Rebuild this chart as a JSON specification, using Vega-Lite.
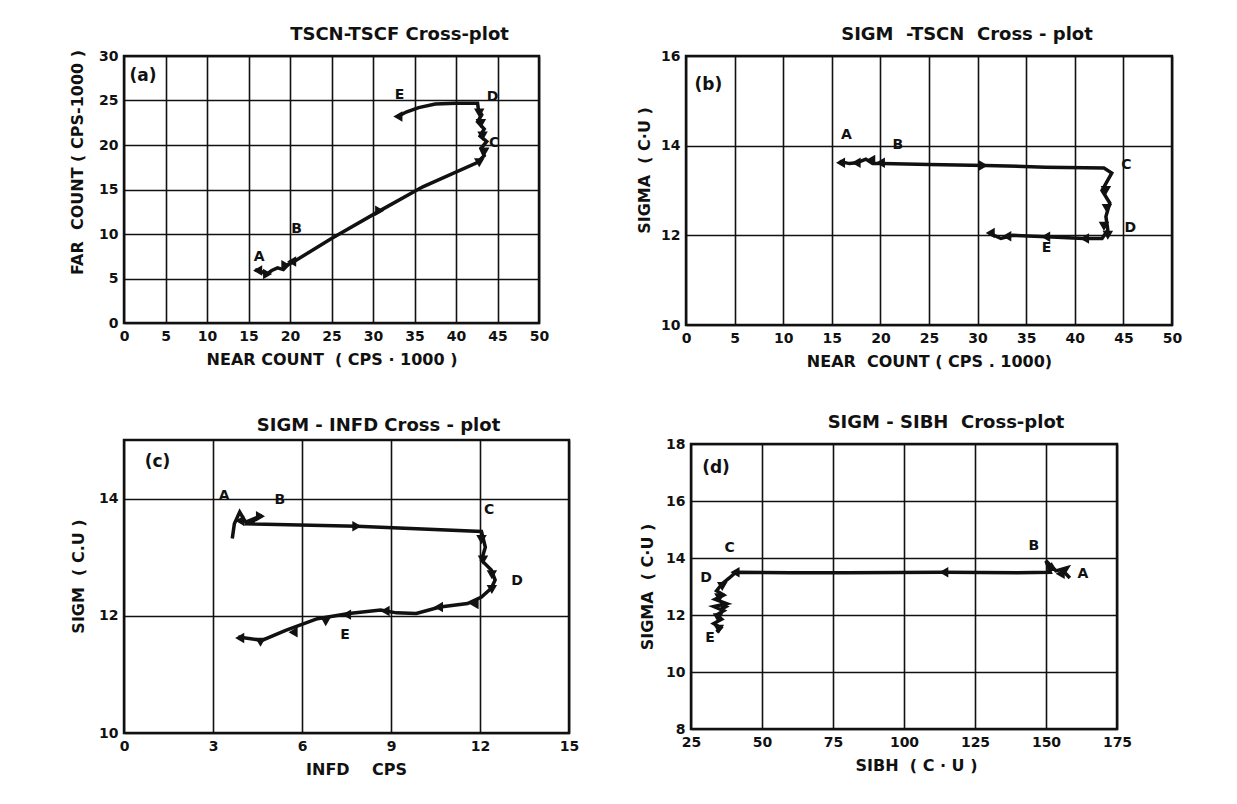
{
  "$schema": "https://vega.github.io/schema/vega-lite/v6.json",
  "background": "white",
  "padding": {"left": 68, "top": 24, "right": 5, "bottom": 5},
  "spacing": 41,
  "config": {
    "view": {"stroke": "#111", "strokeWidth": 2.5},
    "axis": {"grid": true, "gridColor": "#111", "gridWidth": 1.6, "gridOpacity": 1, "domain": false, "ticks": false, "labelPadding": 6, "labelFont": "DejaVu Sans", "labelFontWeight": "bold", "labelFontSize": 14, "labelColor": "#111", "titleFont": "DejaVu Sans", "titleFontWeight": "bold", "titleFontSize": 16, "titleColor": "#111", "labelFlush": false, "labelOverlap": false, "format": "d"},
    "title": {"font": "DejaVu Sans", "fontWeight": "bold", "fontSize": 18, "color": "#111", "offset": 5}
  },
  "vconcat": [
    {
      "hconcat": [
        {
          "width": 415, "height": 267,
          "title": {"text": "TSCN-TSCF Cross-plot", "dx": 68},
          "layer": [
            {
              "data": {"values": [
                {"i":1,"x":15.8,"y":6.0},{"i":2,"x":16.5,"y":5.8},{"i":3,"x":17.2,"y":5.5},{"i":4,"x":17.8,"y":5.9},{"i":5,"x":18.5,"y":6.2},{"i":6,"x":19.2,"y":6.0},{"i":7,"x":19.8,"y":6.6},{"i":8,"x":20.3,"y":6.8},{"i":9,"x":25.0,"y":9.5},{"i":10,"x":30.8,"y":12.6},{"i":11,"x":36.0,"y":15.3},{"i":12,"x":42.5,"y":18.0},{"i":13,"x":43.4,"y":18.8},{"i":14,"x":43.0,"y":19.6},{"i":15,"x":43.7,"y":20.4},{"i":16,"x":42.9,"y":21.0},{"i":17,"x":43.4,"y":21.8},{"i":18,"x":42.6,"y":22.6},{"i":19,"x":43.1,"y":23.4},{"i":20,"x":42.7,"y":24.0},{"i":21,"x":42.6,"y":24.7},{"i":22,"x":40.0,"y":24.7},{"i":23,"x":37.5,"y":24.6},{"i":24,"x":35.5,"y":24.2},{"i":25,"x":34.0,"y":23.7},{"i":26,"x":33.0,"y":23.2}
              ]},
              "mark": {"type": "line", "color": "#111", "strokeWidth": 3.5},
              "encoding": {
                "x": {"field": "x", "type": "quantitative", "scale": {"domain": [0, 50], "nice": false, "zero": false}, "axis": {"values": [0,5,10,15,20,25,30,35,40,45,50], "title": "NEAR COUNT\u00a0\u00a0( CPS · 1000 )", "titlePadding": 8}},
                "y": {"field": "y", "type": "quantitative", "scale": {"domain": [0, 30], "nice": false, "zero": false}, "axis": {"values": [0,5,10,15,20,25,30], "title": "FAR\u00a0\u00a0COUNT ( CPS-1000 )", "titlePadding": 13, "titleY": 106}},
                "order": {"field": "i"}
              }
            },
            {
              "data": {"values": [
                {"x":16.1,"y":5.9,"dir":"left"},{"x":17.3,"y":5.5,"dir":"right"},{"x":19.5,"y":6.5,"dir":"right"},{"x":20.2,"y":6.9,"dir":"left"},{"x":30.8,"y":12.6,"dir":"right"},{"x":42.8,"y":18.0,"dir":"down"},{"x":43.4,"y":19.2,"dir":"down"},{"x":43.2,"y":21.0,"dir":"down"},{"x":43.0,"y":22.4,"dir":"down"},{"x":42.8,"y":23.6,"dir":"down"},{"x":33.0,"y":23.2,"dir":"left"}
              ]},
              "mark": {"type": "point", "filled": true, "color": "#111", "opacity": 1, "size": 110},
              "encoding": {
                "x": {"field": "x", "type": "quantitative"},
                "y": {"field": "y", "type": "quantitative"},
                "shape": {"field": "dir", "type": "nominal", "scale": {"domain": ["left","right","up","down"], "range": ["triangle-left","triangle-right","triangle-up","triangle-down"]}, "legend": null}
              }
            },
            {
              "data": {"values": [
                {"x":16.3,"y":7.45,"t":"A"},{"x":20.8,"y":10.6,"t":"B"},{"x":44.6,"y":20.2,"t":"C"},{"x":44.4,"y":25.4,"t":"D"},{"x":33.2,"y":25.6,"t":"E"}
              ]},
              "mark": {"type": "text", "font": "DejaVu Sans", "fontWeight": "bold", "fontSize": 14, "color": "#111"},
              "encoding": {"x": {"field": "x", "type": "quantitative"}, "y": {"field": "y", "type": "quantitative"}, "text": {"field": "t"}}
            },
            {
              "data": {"values": [{"x":2.3,"y":27.7,"t":"(a)"}]},
              "mark": {"type": "text", "font": "DejaVu Sans", "fontWeight": "bold", "fontSize": 17, "color": "#111"},
              "encoding": {"x": {"field": "x", "type": "quantitative"}, "y": {"field": "y", "type": "quantitative"}, "text": {"field": "t"}}
            }
          ]
        },
        {
          "width": 486, "height": 269,
          "title": {"text": "SIGM\u00a0\u00a0-TSCN\u00a0\u00a0Cross - plot", "dx": 38},
          "layer": [
            {
              "data": {"values": [
                {"i":1,"x":15.8,"y":13.65},{"i":2,"x":16.8,"y":13.6},{"i":3,"x":17.6,"y":13.62},{"i":4,"x":18.5,"y":13.7},{"i":5,"x":19.2,"y":13.6},{"i":6,"x":20.2,"y":13.6},{"i":7,"x":25.0,"y":13.58},{"i":8,"x":30.8,"y":13.56},{"i":9,"x":37.0,"y":13.52},{"i":10,"x":43.0,"y":13.5},{"i":11,"x":43.8,"y":13.39},{"i":12,"x":42.8,"y":13.0},{"i":13,"x":43.6,"y":12.72},{"i":14,"x":43.2,"y":12.42},{"i":15,"x":43.4,"y":12.12},{"i":16,"x":42.8,"y":11.93},{"i":17,"x":40.9,"y":11.93},{"i":18,"x":37.1,"y":11.97},{"i":19,"x":33.6,"y":12.0},{"i":20,"x":32.4,"y":11.93},{"i":21,"x":31.2,"y":12.05}
              ]},
              "mark": {"type": "line", "color": "#111", "strokeWidth": 3.5},
              "encoding": {
                "x": {"field": "x", "type": "quantitative", "scale": {"domain": [0, 50], "nice": false, "zero": false}, "axis": {"values": [0,5,10,15,20,25,30,35,40,45,50], "title": "NEAR\u00a0\u00a0COUNT ( CPS . 1000)", "titlePadding": 8}},
                "y": {"field": "y", "type": "quantitative", "scale": {"domain": [10, 16], "nice": false, "zero": false}, "axis": {"values": [10,12,14,16], "title": "SIGMA\u00a0\u00a0( C·U )", "titlePadding": 8, "titleY": 114}},
                "order": {"field": "i"}
              }
            },
            {
              "data": {"values": [
                {"x":15.9,"y":13.62,"dir":"left"},{"x":17.5,"y":13.62,"dir":"left"},{"x":19.0,"y":13.68,"dir":"left"},{"x":20.0,"y":13.62,"dir":"left"},{"x":30.6,"y":13.56,"dir":"right"},{"x":43.2,"y":13.0,"dir":"down"},{"x":43.3,"y":12.6,"dir":"down"},{"x":43.0,"y":12.2,"dir":"down"},{"x":43.4,"y":12.0,"dir":"down"},{"x":41.0,"y":11.93,"dir":"left"},{"x":37.0,"y":11.97,"dir":"left"},{"x":33.0,"y":11.98,"dir":"left"},{"x":31.3,"y":12.05,"dir":"left"}
              ]},
              "mark": {"type": "point", "filled": true, "color": "#111", "opacity": 1, "size": 110},
              "encoding": {
                "x": {"field": "x", "type": "quantitative"},
                "y": {"field": "y", "type": "quantitative"},
                "shape": {"field": "dir", "type": "nominal", "scale": {"domain": ["left","right","up","down"], "range": ["triangle-left","triangle-right","triangle-up","triangle-down"]}, "legend": null}
              }
            },
            {
              "data": {"values": [
                {"x":16.5,"y":14.24,"t":"A"},{"x":21.8,"y":14.02,"t":"B"},{"x":45.3,"y":13.57,"t":"C"},{"x":45.7,"y":12.16,"t":"D"},{"x":37.1,"y":11.71,"t":"E"}
              ]},
              "mark": {"type": "text", "font": "DejaVu Sans", "fontWeight": "bold", "fontSize": 14, "color": "#111"},
              "encoding": {"x": {"field": "x", "type": "quantitative"}, "y": {"field": "y", "type": "quantitative"}, "text": {"field": "t"}}
            },
            {
              "data": {"values": [{"x":2.3,"y":15.36,"t":"(b)"}]},
              "mark": {"type": "text", "font": "DejaVu Sans", "fontWeight": "bold", "fontSize": 17, "color": "#111"},
              "encoding": {"x": {"field": "x", "type": "quantitative"}, "y": {"field": "y", "type": "quantitative"}, "text": {"field": "t"}}
            }
          ]
        }
      ],
      "spacing": 147,
      "bounds": "flush"
    },
    {
      "hconcat": [
        {
          "width": 445, "height": 293,
          "title": {"text": "SIGM - INFD Cross - plot", "dx": 32},
          "layer": [
            {
              "data": {"values": [
                {"i":1,"x":3.65,"y":13.32},{"i":2,"x":3.72,"y":13.57},{"i":3,"x":3.9,"y":13.77},{"i":4,"x":4.1,"y":13.6},{"i":5,"x":4.65,"y":13.71},{"i":6,"x":4.2,"y":13.57},{"i":7,"x":7.85,"y":13.53},{"i":8,"x":12.05,"y":13.44},{"i":9,"x":12.18,"y":13.17},{"i":10,"x":12.05,"y":12.95},{"i":11,"x":12.38,"y":12.78},{"i":12,"x":12.51,"y":12.61},{"i":13,"x":12.38,"y":12.47},{"i":14,"x":12.05,"y":12.32},{"i":15,"x":11.58,"y":12.21},{"i":16,"x":10.65,"y":12.15},{"i":17,"x":9.85,"y":12.04},{"i":18,"x":9.18,"y":12.05},{"i":19,"x":8.65,"y":12.1},{"i":20,"x":7.58,"y":12.04},{"i":21,"x":6.52,"y":11.95},{"i":22,"x":5.45,"y":11.75},{"i":23,"x":4.65,"y":11.58},{"i":24,"x":3.85,"y":11.64}
              ]},
              "mark": {"type": "line", "color": "#111", "strokeWidth": 3.5},
              "encoding": {
                "x": {"field": "x", "type": "quantitative", "scale": {"domain": [0, 15], "nice": false, "zero": false}, "axis": {"values": [0,3,6,9,12,15], "title": "INFD\u00a0\u00a0\u00a0\u00a0CPS", "titlePadding": 8, "titleX": 232}},
                "y": {"field": "y", "type": "quantitative", "scale": {"domain": [10, 15], "nice": false, "zero": false}, "axis": {"values": [10,12,14], "title": "SIGM\u00a0\u00a0( C.U )", "titlePadding": 12, "titleY": 136}},
                "order": {"field": "i"}
              }
            },
            {
              "data": {"values": [
                {"x":3.9,"y":13.62,"dir":"left"},{"x":4.6,"y":13.7,"dir":"right"},{"x":7.85,"y":13.53,"dir":"right"},{"x":12.05,"y":13.3,"dir":"down"},{"x":12.1,"y":12.95,"dir":"down"},{"x":12.4,"y":12.7,"dir":"down"},{"x":12.4,"y":12.45,"dir":"down"},{"x":11.8,"y":12.2,"dir":"left"},{"x":10.6,"y":12.15,"dir":"left"},{"x":8.8,"y":12.08,"dir":"left"},{"x":7.5,"y":12.02,"dir":"left"},{"x":6.8,"y":11.9,"dir":"down"},{"x":5.7,"y":11.72,"dir":"left"},{"x":4.6,"y":11.55,"dir":"down"},{"x":3.9,"y":11.62,"dir":"left"}
              ]},
              "mark": {"type": "point", "filled": true, "color": "#111", "opacity": 1, "size": 110},
              "encoding": {
                "x": {"field": "x", "type": "quantitative"},
                "y": {"field": "y", "type": "quantitative"},
                "shape": {"field": "dir", "type": "nominal", "scale": {"domain": ["left","right","up","down"], "range": ["triangle-left","triangle-right","triangle-up","triangle-down"]}, "legend": null}
              }
            },
            {
              "data": {"values": [
                {"x":3.38,"y":14.05,"t":"A"},{"x":5.25,"y":13.97,"t":"B"},{"x":12.31,"y":13.8,"t":"C"},{"x":13.25,"y":12.6,"t":"D"},{"x":7.45,"y":11.67,"t":"E"}
              ]},
              "mark": {"type": "text", "font": "DejaVu Sans", "fontWeight": "bold", "fontSize": 14, "color": "#111"},
              "encoding": {"x": {"field": "x", "type": "quantitative"}, "y": {"field": "y", "type": "quantitative"}, "text": {"field": "t"}}
            },
            {
              "data": {"values": [{"x":1.13,"y":14.62,"t":"(c)"}]},
              "mark": {"type": "text", "font": "DejaVu Sans", "fontWeight": "bold", "fontSize": 17, "color": "#111"},
              "encoding": {"x": {"field": "x", "type": "quantitative"}, "y": {"field": "y", "type": "quantitative"}, "text": {"field": "t"}}
            }
          ]
        },
        {
          "width": 426, "height": 285,
          "title": {"text": "SIGM - SIBH\u00a0\u00a0Cross-plot", "dx": 42},
          "layer": [
            {
              "data": {"values": [
                {"i":1,"x":158.4,"y":13.3},{"i":2,"x":156.5,"y":13.5},{"i":3,"x":157.5,"y":13.66},{"i":4,"x":153.5,"y":13.55},{"i":5,"x":151.5,"y":13.75},{"i":6,"x":150.0,"y":13.9},{"i":7,"x":151.5,"y":13.5},{"i":8,"x":140.0,"y":13.48},{"i":9,"x":114.3,"y":13.5},{"i":10,"x":80.0,"y":13.48},{"i":11,"x":60.0,"y":13.48},{"i":12,"x":41.0,"y":13.5},{"i":13,"x":40.2,"y":13.45},{"i":14,"x":38.5,"y":13.3},{"i":15,"x":36.0,"y":13.1},{"i":16,"x":34.0,"y":12.85},{"i":17,"x":36.5,"y":12.7},{"i":18,"x":33.5,"y":12.55},{"i":19,"x":37.5,"y":12.4},{"i":20,"x":33.0,"y":12.3},{"i":21,"x":36.5,"y":12.15},{"i":22,"x":34.0,"y":12.0},{"i":23,"x":35.8,"y":11.85},{"i":24,"x":33.0,"y":11.7},{"i":25,"x":35.5,"y":11.55},{"i":26,"x":34.0,"y":11.4}
              ]},
              "mark": {"type": "line", "color": "#111", "strokeWidth": 3.5},
              "encoding": {
                "x": {"field": "x", "type": "quantitative", "scale": {"domain": [25, 175], "nice": false, "zero": false}, "axis": {"values": [25,50,75,100,125,150,175], "title": "SIBH\u00a0\u00a0( C · U )", "titlePadding": 8, "titleX": 225}},
                "y": {"field": "y", "type": "quantitative", "scale": {"domain": [8, 18], "nice": false, "zero": false}, "axis": {"values": [8,10,12,14,16,18], "title": "SIGMA\u00a0\u00a0( C·U )", "titlePadding": 10}},
                "order": {"field": "i"}
              }
            },
            {
              "data": {"values": [
                {"x":155,"y":13.45,"dir":"left"},{"x":152,"y":13.7,"dir":"up"},{"x":114,"y":13.5,"dir":"left"},{"x":40.5,"y":13.5,"dir":"left"},{"x":36,"y":13.0,"dir":"down"},{"x":35,"y":12.6,"dir":"down"},{"x":37,"y":12.3,"dir":"right"},{"x":34.5,"y":11.9,"dir":"down"},{"x":34.8,"y":11.5,"dir":"down"}
              ]},
              "mark": {"type": "point", "filled": true, "color": "#111", "opacity": 1, "size": 110},
              "encoding": {
                "x": {"field": "x", "type": "quantitative"},
                "y": {"field": "y", "type": "quantitative"},
                "shape": {"field": "dir", "type": "nominal", "scale": {"domain": ["left","right","up","down"], "range": ["triangle-left","triangle-right","triangle-up","triangle-down"]}, "legend": null}
              }
            },
            {
              "data": {"values": [
                {"x":163.0,"y":13.43,"t":"A"},{"x":145.7,"y":14.42,"t":"B"},{"x":38.6,"y":14.36,"t":"C"},{"x":30.3,"y":13.31,"t":"D"},{"x":31.7,"y":11.2,"t":"E"}
              ]},
              "mark": {"type": "text", "font": "DejaVu Sans", "fontWeight": "bold", "fontSize": 14, "color": "#111"},
              "encoding": {"x": {"field": "x", "type": "quantitative"}, "y": {"field": "y", "type": "quantitative"}, "text": {"field": "t"}}
            },
            {
              "data": {"values": [{"x":33.8,"y":17.17,"t":"(d)"}]},
              "mark": {"type": "text", "font": "DejaVu Sans", "fontWeight": "bold", "fontSize": 17, "color": "#111"},
              "encoding": {"x": {"field": "x", "type": "quantitative"}, "y": {"field": "y", "type": "quantitative"}, "text": {"field": "t"}}
            }
          ]
        }
      ],
      "spacing": 122,
      "center": true,
      "bounds": "flush"
    }
  ]
}
